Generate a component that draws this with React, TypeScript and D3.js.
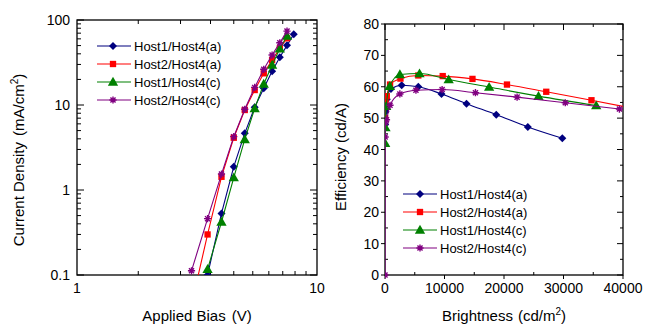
import React, { useEffect, useRef } from "react";
import * as d3 from "d3";

// ---- J-V data (Applied Bias V, Current Density mA/cm2) ----
const h1h4aV = [3.5, 4.0, 4.5, 5.0, 5.5, 6.0, 6.5, 7.0, 7.5, 8.0];
const h1h4aJ = [0.1, 0.53, 1.88, 4.64, 9.4, 15.7, 24.9, 36.4, 50.3, 68];
const h2h4aV = [3.0, 3.5, 4.0, 4.5, 5.0, 5.5, 6.0, 6.5, 7.0, 7.5];
const h2h4aJ = [0.045, 0.3, 1.43, 4.12, 8.73, 15.0, 23.6, 33.8, 46.4, 61];
const h1h4cV = [3.5, 4.0, 4.5, 5.0, 5.5, 6.0, 6.5, 7.0, 7.5];
const h1h4cJ = [0.117, 0.42, 1.4, 3.94, 9.1, 17.7, 29.6, 46, 65];
const h2h4cV = [3.0, 3.5, 4.0, 4.5, 5.0, 5.5, 6.0, 6.5, 7.0, 7.5];
const h2h4cJ = [0.112, 0.46, 1.54, 4.24, 8.9, 16.1, 26.3, 38.7, 54, 74];

// ---- Efficiency-Brightness data (cd/m2, cd/A) ----
const h1h4aB = [30, 100, 300, 1000, 2800, 5600, 9500, 13700, 18700, 24000, 29800];
const h1h4aE = [48, 52, 56, 59.3, 60.5, 60.0, 57.7, 54.6, 51.1, 47.2, 43.6];
const h2h4aB = [20, 100, 300, 850, 2600, 5600, 9700, 14700, 20500, 27100, 34700, 42000];
const h2h4aE = [50, 55, 57, 60.7, 62.6, 63.6, 63.4, 62.5, 60.7, 58.4, 55.7, 53.0];
const h1h4cB = [30, 80, 200, 800, 2500, 5800, 10700, 17500, 25800, 35500];
const h1h4cE = [42, 47, 53.8, 60.2, 63.9, 64.2, 62.3, 59.9, 57.0, 54.0];
const h2h4cB = [0, 20, 60, 250, 840, 2500, 5200, 9600, 15200, 22200, 30300, 39400];
const h2h4cE = [0, 44, 48.5, 49.5, 54.1, 57.7, 58.9, 59.1, 58.1, 56.7, 54.9, 52.9];

const seriesNames = ["Host1/Host4(a)", "Host2/Host4(a)", "Host1/Host4(c)", "Host2/Host4(c)"];
const seriesColors = ["#00007f", "#ff0000", "#008000", "#800080"];
const seriesMarkers = ["diamond", "square", "triangle", "asterisk"];

// axis ticks
const biasTicks = [1, 10];
const biasMinor = [1.8, 2.7, 3.6, 4.5, 5.4, 6.3, 7.2, 8.1, 9.0];
const jTicks = [0.1, 1, 10, 100];
const jTickLabels = ["0.1", "1", "10", "100"];
const bTicks = [0, 10000, 20000, 30000, 40000];
const bMinor = [5000, 15000, 25000, 35000];
const eTicks = [0, 10, 20, 30, 40, 50, 60, 70, 80];
const eMinor = [5, 15, 25, 35, 45, 55, 65, 75];

const FONT = "'Liberation Sans', Arial, sans-serif";

const drawMarker = (g, kind, color, x, y) => {
  if (kind === "asterisk") {
    const r = 3.6;
    const p = d3.path();
    [0, 45, 90, 135].forEach(a => {
      const dx = r * Math.cos((a * Math.PI) / 180);
      const dy = r * Math.sin((a * Math.PI) / 180);
      p.moveTo(x - dx, y - dy);
      p.lineTo(x + dx, y + dy);
    });
    g.append("path").attr("d", p.toString()).attr("stroke", color).attr("stroke-width", 1.4).attr("fill", "none");
    return;
  }
  if (kind === "diamond") {
    g.append("path")
      .attr("d", d3.symbol().type(d3.symbolSquare).size(32)())
      .attr("transform", `translate(${x},${y}) rotate(45)`)
      .attr("fill", color);
    return;
  }
  const type = kind === "square" ? d3.symbolSquare : d3.symbolTriangle;
  const size = kind === "square" ? 40 : 46;
  g.append("path")
    .attr("d", d3.symbol().type(type).size(size)())
    .attr("transform", `translate(${x},${y + (kind === "triangle" ? 0.8 : 0)})`)
    .attr("fill", color);
};

export default function App() {
  const ref = useRef(null);

  useEffect(() => {
    const svg = d3.select(ref.current);
    svg.selectAll("*").remove();

    // ================= left: J-V =================
    const L = { left: 77, right: 317, top: 20, bottom: 275 };
    const x1 = d3.scaleLog().domain([1, 10]).range([L.left, L.right]);
    const y1 = d3.scaleLog().domain([0.1, 100]).range([L.bottom, L.top]);

    svg.append("clipPath").attr("id", "clipL").append("rect")
      .attr("x", L.left).attr("y", L.top).attr("width", L.right - L.left).attr("height", L.bottom - L.top);

    const gl = svg.append("g");
    // ticks (inward)
    const jMinor = [];
    [0.1, 1, 10].forEach(d => { for (let k = 2; k <= 9; k++) jMinor.push(d * k); });
    jMinor.forEach(v => {
      gl.append("line").attr("x1", L.left).attr("x2", L.left + 4).attr("y1", y1(v)).attr("y2", y1(v)).attr("stroke", "#000");
      gl.append("line").attr("x1", L.right).attr("x2", L.right - 4).attr("y1", y1(v)).attr("y2", y1(v)).attr("stroke", "#000");
    });
    jTicks.forEach(v => {
      gl.append("line").attr("x1", L.left).attr("x2", L.left + 7).attr("y1", y1(v)).attr("y2", y1(v)).attr("stroke", "#000");
      gl.append("line").attr("x1", L.right).attr("x2", L.right - 7).attr("y1", y1(v)).attr("y2", y1(v)).attr("stroke", "#000");
    });
    biasMinor.forEach(v => {
      gl.append("line").attr("x1", x1(v)).attr("x2", x1(v)).attr("y1", L.bottom).attr("y2", L.bottom - 4).attr("stroke", "#000");
      gl.append("line").attr("x1", x1(v)).attr("x2", x1(v)).attr("y1", L.top).attr("y2", L.top + 4).attr("stroke", "#000");
    });
    gl.append("rect").attr("x", L.left).attr("y", L.top).attr("width", L.right - L.left).attr("height", L.bottom - L.top)
      .attr("fill", "none").attr("stroke", "#000").attr("stroke-width", 1.3);

    jTicks.forEach((v, i) => {
      gl.append("text").attr("x", L.left - 7).attr("y", y1(v)).attr("dy", "0.36em")
        .attr("text-anchor", "end").style("font-size", "14px").style("font-family", FONT).text(jTickLabels[i]);
    });
    biasTicks.forEach(v => {
      gl.append("text").attr("x", x1(v)).attr("y", 293)
        .attr("text-anchor", "middle").style("font-size", "14px").style("font-family", FONT).text(String(v));
    });

    const leftSeries = [[h1h4aV, h1h4aJ], [h2h4aV, h2h4aJ], [h1h4cV, h1h4cJ], [h2h4cV, h2h4cJ]];
    leftSeries.forEach(([vs, js], i) => {
      const pts = vs.map((v, k) => [v, js[k]]);
      const g = gl.append("g").attr("clip-path", "url(#clipL)");
      g.append("path")
        .attr("d", d3.line().x(d => x1(d[0])).y(d => y1(d[1]))(pts))
        .attr("fill", "none").attr("stroke", seriesColors[i]).attr("stroke-width", 1.1);
      pts.filter(d => d[1] >= 0.1).forEach(d => drawMarker(g, seriesMarkers[i], seriesColors[i], x1(d[0]), y1(d[1])));
    });

    // legend
    seriesNames.forEach((name, i) => {
      const yy = 46 + i * 18;
      gl.append("line").attr("x1", 97).attr("x2", 131).attr("y1", yy).attr("y2", yy).attr("stroke", seriesColors[i]).attr("stroke-width", 1.1);
      drawMarker(gl, seriesMarkers[i], seriesColors[i], 113, yy);
      gl.append("text").attr("x", 134).attr("y", yy).attr("dy", "0.36em")
        .style("font-size", "13px").style("font-family", FONT).text(name);
    });

    // axis titles
    const tx = gl.append("text").attr("x", 197).attr("y", 321).attr("text-anchor", "middle")
      .style("font-size", "15px").style("font-family", FONT);
    tx.append("tspan").text("Applied Bias");
    tx.append("tspan").attr("dx", 6).text("(V)");

    const ty = gl.append("text").attr("transform", "translate(24,160) rotate(-90)").attr("text-anchor", "middle")
      .style("font-size", "15px").style("font-family", FONT);
    ty.append("tspan").text("Current Density");
    ty.append("tspan").attr("dx", 6).text("(mA/cm");
    ty.append("tspan").attr("dy", -6).style("font-size", "10px").text("2");
    ty.append("tspan").attr("dy", 6).text(")");

    // ================= right: Efficiency-Brightness =================
    const R = { left: 385, right: 623, top: 24, bottom: 275 };
    const x2 = d3.scaleLinear().domain([0, 40000]).range([R.left, R.right]);
    const y2 = d3.scaleLinear().domain([0, 80]).range([R.bottom, R.top]);

    svg.append("clipPath").attr("id", "clipR").append("rect")
      .attr("x", R.left).attr("y", R.top - 5).attr("width", R.right - R.left).attr("height", R.bottom - R.top + 10);

    const gr = svg.append("g");
    eTicks.forEach(v => {
      gr.append("line").attr("x1", R.left - 4).attr("x2", R.left).attr("y1", y2(v)).attr("y2", y2(v)).attr("stroke", "#000");
      gr.append("line").attr("x1", R.right).attr("x2", R.right - 6).attr("y1", y2(v)).attr("y2", y2(v)).attr("stroke", "#000");
    });
    eMinor.forEach(v => {
      gr.append("line").attr("x1", R.left).attr("x2", R.left + 3).attr("y1", y2(v)).attr("y2", y2(v)).attr("stroke", "#000");
      gr.append("line").attr("x1", R.right).attr("x2", R.right - 3).attr("y1", y2(v)).attr("y2", y2(v)).attr("stroke", "#000");
    });
    bTicks.forEach(v => {
      gr.append("line").attr("x1", x2(v)).attr("x2", x2(v)).attr("y1", R.bottom).attr("y2", R.bottom + 4).attr("stroke", "#000");
      gr.append("line").attr("x1", x2(v)).attr("x2", x2(v)).attr("y1", R.top).attr("y2", R.top + 6).attr("stroke", "#000");
    });
    bMinor.forEach(v => {
      gr.append("line").attr("x1", x2(v)).attr("x2", x2(v)).attr("y1", R.bottom).attr("y2", R.bottom - 3).attr("stroke", "#000");
      gr.append("line").attr("x1", x2(v)).attr("x2", x2(v)).attr("y1", R.top).attr("y2", R.top + 3).attr("stroke", "#000");
    });
    gr.append("rect").attr("x", R.left).attr("y", R.top).attr("width", R.right - R.left).attr("height", R.bottom - R.top)
      .attr("fill", "none").attr("stroke", "#000").attr("stroke-width", 1.3);

    eTicks.forEach(v => {
      gr.append("text").attr("x", R.left - 6).attr("y", y2(v)).attr("dy", "0.36em")
        .attr("text-anchor", "end").style("font-size", "14px").style("font-family", FONT).text(String(v));
    });
    bTicks.forEach(v => {
      gr.append("text").attr("x", x2(v)).attr("y", 293)
        .attr("text-anchor", "middle").style("font-size", "14px").style("font-family", FONT).text(String(v));
    });

    const rightSeries = [[h1h4aB, h1h4aE], [h2h4aB, h2h4aE], [h1h4cB, h1h4cE], [h2h4cB, h2h4cE]];
    rightSeries.forEach(([bs, es], i) => {
      const pts = bs.map((b, k) => [b, es[k]]);
      const g = gr.append("g").attr("clip-path", "url(#clipR)");
      g.append("path")
        .attr("d", d3.line().x(d => x2(d[0])).y(d => y2(d[1])).curve(d3.curveMonotoneX)(pts))
        .attr("fill", "none").attr("stroke", seriesColors[i]).attr("stroke-width", 1.1);
      pts.filter(d => d[0] <= 40000).forEach(d => drawMarker(g, seriesMarkers[i], seriesColors[i], x2(d[0]), y2(d[1])));
    });

    seriesNames.forEach((name, i) => {
      const yy = 194 + i * 18;
      gr.append("line").attr("x1", 403).attr("x2", 437).attr("y1", yy).attr("y2", yy).attr("stroke", seriesColors[i]).attr("stroke-width", 1.1);
      drawMarker(gr, seriesMarkers[i], seriesColors[i], 420, yy);
      gr.append("text").attr("x", 440).attr("y", yy).attr("dy", "0.36em")
        .style("font-size", "13px").style("font-family", FONT).text(name);
    });

    const bx = gr.append("text").attr("x", 504).attr("y", 321).attr("text-anchor", "middle")
      .style("font-size", "15px").style("font-family", FONT);
    bx.append("tspan").text("Brightness");
    bx.append("tspan").attr("dx", 5).text("(cd/m");
    bx.append("tspan").attr("dy", -6).style("font-size", "10px").text("2");
    bx.append("tspan").attr("dy", 6).text(")");

    const ey = gr.append("text").attr("transform", "translate(346,157) rotate(-90)").attr("text-anchor", "middle")
      .style("font-size", "15px").style("font-family", FONT);
    ey.append("tspan").text("Efficiency");
    ey.append("tspan").attr("dx", 4).text("(cd/A)");
  }, []);

  return (
    <svg ref={ref} width={647} height={326} style={{ position: "absolute", left: 0, top: 0, background: "#fff" }} />
  );
}
